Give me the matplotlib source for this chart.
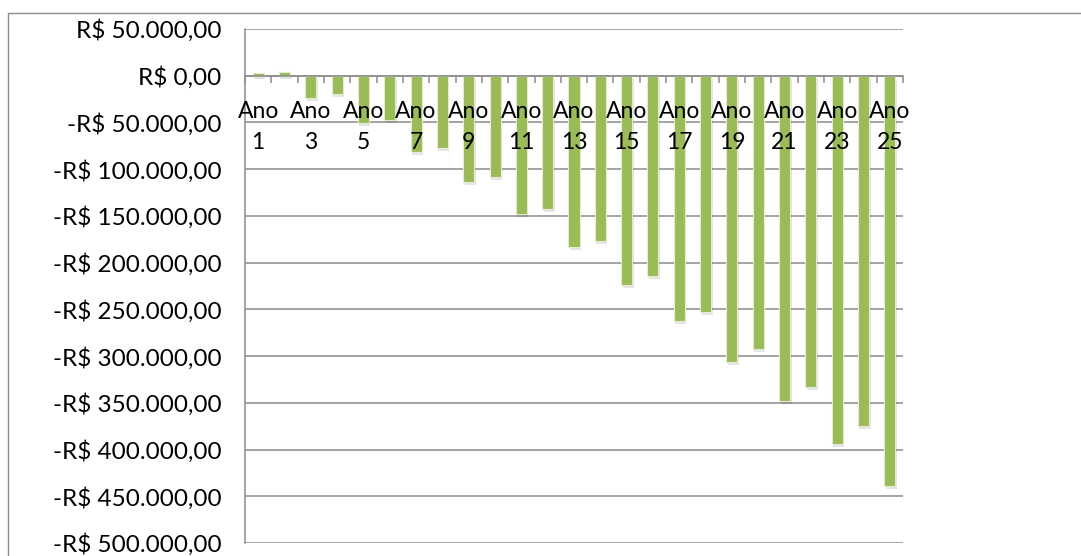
import matplotlib
matplotlib.use("Agg")
import matplotlib.pyplot as plt
import matplotlib.transforms as mtransforms
from matplotlib.patches import Rectangle
from matplotlib.ticker import FuncFormatter, FixedLocator

categories = [f"Ano {i}" for i in range(1, 26)]
values = [3000, 4000, -24000, -20000, -50500, -47000, -81500, -77000,
          -113500, -108000, -148000, -143000, -183500, -177000, -224000,
          -214000, -262500, -252500, -306000, -292000, -348000, -333000,
          -394500, -374500, -438500]
y_ticks = list(range(50000, -500001, -50000))

bar_color = "#9BBB59"
grid_color = "#8C8C8C"

plt.rcParams['font.family'] = ['Lato', 'DejaVu Sans']

fig = plt.figure(figsize=(10.81, 5.56), dpi=100)
W, H = 1081, 556
ax = fig.add_axes([245 / W, 1 - 543 / H, (903 - 245) / W, (543 - 29) / H])

# outer chart frame
fig.patches.append(Rectangle((8 / W, -0.1), 1.2, 1 - 13 / H + 0.1,
                             transform=fig.transFigure, fill=False,
                             edgecolor="#8C8C8C", linewidth=1.0))

x = list(range(len(categories)))
shadow = ax.transData + mtransforms.ScaledTranslation(1.5 / 100, -3 / 100, fig.dpi_scale_trans)
ax.bar(x, values, width=0.42, color="#000000", alpha=0.10, transform=shadow, zorder=2)
ax.bar(x, values, width=0.42, color=bar_color, edgecolor="#E2ECCF", linewidth=0.8, zorder=3)

ax.set_xlim(-0.5, len(categories) - 0.5)
ax.set_ylim(-500000, 50000)

ax.yaxis.set_major_locator(FixedLocator(y_ticks))


def fmt(v, pos):
    s = f"{abs(v):,.2f}".replace(",", "X").replace(".", ",").replace("X", ".")
    return ("-R$ " if v < 0 else "R$ ") + s


ax.yaxis.set_major_formatter(FuncFormatter(fmt))
ax.tick_params(axis='y', length=0, pad=17, labelsize=17.5, labelcolor="black")
ax.grid(axis='y', color=grid_color, linewidth=1.1)
ax.yaxis.set_zorder(0.5)
ax.xaxis.set_zorder(5)

for s in ['top', 'right']:
    ax.spines[s].set_visible(False)
ax.spines['left'].set_color(grid_color)
ax.spines['left'].set_linewidth(1.1)
ax.spines['bottom'].set_position(('data', 0))
ax.spines['bottom'].set_color(grid_color)
ax.spines['bottom'].set_linewidth(1.1)
ax.spines['bottom'].set_zorder(4)

odd_pos = [i for i in x if i % 2 == 0]
ax.set_xticks(odd_pos)
ax.set_xticklabels([categories[i].replace(" ", "\n") for i in odd_pos],
                   fontsize=16.5, linespacing=1.6)
ax.set_xticks([i + 0.5 for i in x[:-1]] + [-0.5, len(categories) - 0.5], minor=True)
ax.tick_params(axis='x', which='major', length=0, pad=18)
ax.tick_params(axis='x', which='minor', length=5, width=1.1, color=grid_color, direction='out')

fig.savefig("out.png", dpi=100)
